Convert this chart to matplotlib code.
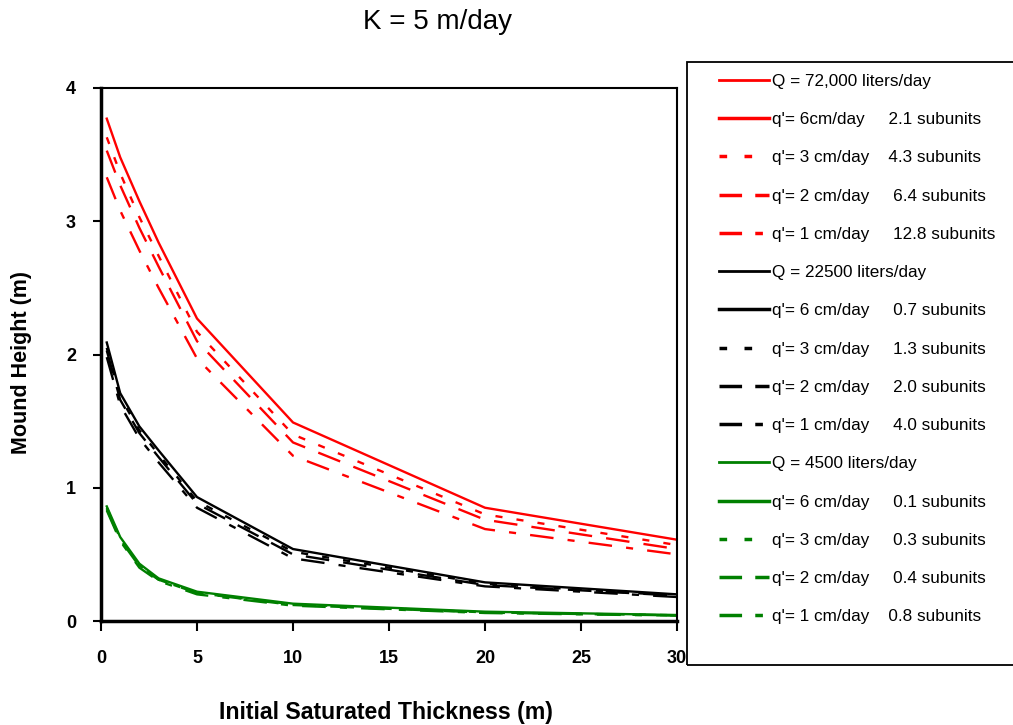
import matplotlib
matplotlib.use("Agg")
import matplotlib.pyplot as plt
from matplotlib.lines import Line2D
from matplotlib.patches import Rectangle

plt.rcParams["font.family"] = ["Liberation Sans", "DejaVu Sans"]

# thickness values (m)
thickness = [0.3, 1, 2, 3, 5, 10, 20, 30]

# Q = 72,000 liters/day
red_6 = [3.77, 3.48, 3.15, 2.84, 2.27, 1.49, 0.85, 0.61]
red_3 = [3.63, 3.36, 3.03, 2.74, 2.17, 1.40, 0.80, 0.57]
red_2 = [3.53, 3.27, 2.95, 2.66, 2.10, 1.34, 0.76, 0.54]
red_1 = [3.33, 3.08, 2.78, 2.50, 1.97, 1.24, 0.69, 0.50]

# Q = 22500 liters/day
black_6 = [2.09, 1.71, 1.46, 1.28, 0.93, 0.54, 0.29, 0.20]
black_3 = [2.05, 1.68, 1.43, 1.25, 0.90, 0.52, 0.28, 0.19]
black_2 = [2.03, 1.66, 1.41, 1.23, 0.88, 0.50, 0.27, 0.19]
black_1 = [1.98, 1.62, 1.37, 1.19, 0.85, 0.47, 0.26, 0.18]

# Q = 4500 liters/day
green_6 = [0.86, 0.63, 0.43, 0.32, 0.22, 0.13, 0.07, 0.045]
green_3 = [0.85, 0.62, 0.42, 0.31, 0.21, 0.125, 0.065, 0.043]
green_2 = [0.84, 0.61, 0.41, 0.31, 0.21, 0.12, 0.063, 0.042]
green_1 = [0.83, 0.60, 0.40, 0.30, 0.20, 0.115, 0.06, 0.04]

labels = [
    "Q = 72,000 liters/day",
    "q'= 6cm/day     2.1 subunits",
    "q'= 3 cm/day    4.3 subunits",
    "q'= 2 cm/day     6.4 subunits",
    "q'= 1 cm/day     12.8 subunits",
    "Q = 22500 liters/day",
    "q'= 6 cm/day     0.7 subunits",
    "q'= 3 cm/day     1.3 subunits",
    "q'= 2 cm/day     2.0 subunits",
    "q'= 1 cm/day     4.0 subunits",
    "Q = 4500 liters/day",
    "q'= 6 cm/day     0.1 subunits",
    "q'= 3 cm/day     0.3 subunits",
    "q'= 2 cm/day     0.4 subunits",
    "q'= 1 cm/day    0.8 subunits",
]

colors = {"red": "#ff0000", "black": "#000000", "green": "#008000"}
styles = [
    "-",
    (0, (3, 6)),
    (0, (10, 6)),
    (0, (10, 6, 3, 6)),
]
# legend dashes are scaled by lw=2.5 pt
legend_styles = [
    "-",
    (0, (2.2, 5.0)),
    (0, (6.5, 3.8)),
    (0, (6.5, 3.8, 2.2, 4.0)),
]

fig = plt.figure(figsize=(10.13, 7.25), dpi=100)
ax = fig.add_axes([101 / 1013, 1 - 621 / 725, 576 / 1013, 533 / 725])

groups = [
    ("red", [red_6, red_3, red_2, red_1]),
    ("black", [black_6, black_3, black_2, black_1]),
    ("green", [green_6, green_3, green_2, green_1]),
]

handles = []
for cname, series in groups:
    c = colors[cname]
    handles.append(Line2D([], [], color=c, lw=2, ls="-"))
    for s, ls, lls in zip(series, styles, legend_styles):
        ax.plot(thickness, s, color=c, lw=1.7, ls=ls)
        handles.append(Line2D([], [], color=c, lw=2.5, ls=lls))

ax.set_xlim(0, 30)
ax.set_ylim(0, 4)
ax.set_xticks([0, 5, 10, 15, 20, 25, 30])
ax.set_yticks([0, 1, 2, 3, 4])
for lbl in ax.get_xticklabels() + ax.get_yticklabels():
    lbl.set_fontweight("bold")
    lbl.set_fontsize(13)
ax.tick_params(axis="x", direction="out", length=7, width=1.5, pad=14)
ax.tick_params(axis="y", direction="out", length=6, width=1.5, pad=12)
for side in ["left", "bottom"]:
    ax.spines[side].set_linewidth(2.5)
for side in ["top", "right"]:
    ax.spines[side].set_linewidth(1.5)

fig.text(437 / 1013, 1 - 22 / 725, "K = 5 m/day", ha="center", va="center", fontsize=20)
fig.text(22 / 1013, 1 - 362 / 725, "Mound Height (m)", rotation=90,
         ha="center", va="center", fontsize=15.5, fontweight="bold")
fig.text(386 / 1013, 1 - 712 / 725, "Initial Saturated Thickness (m)",
         ha="center", va="center", fontsize=16.7, fontweight="bold")

# legend box runs off the right edge like the original
fig.patches.append(Rectangle((687 / 1013, 1 - 665 / 725), 400 / 1013, 603 / 725,
                             transform=fig.transFigure, fill=False,
                             edgecolor="black", lw=1.3, clip_on=False))
leg = fig.legend(handles, labels, loc="upper left",
                 bbox_to_anchor=(719 / 1013, 1 - 74 / 725),
                 fontsize=12.3, handlelength=2.95, handletextpad=0.15,
                 labelspacing=1.36, borderpad=0, borderaxespad=0,
                 frameon=False)

fig.savefig("out.png", dpi=100)
